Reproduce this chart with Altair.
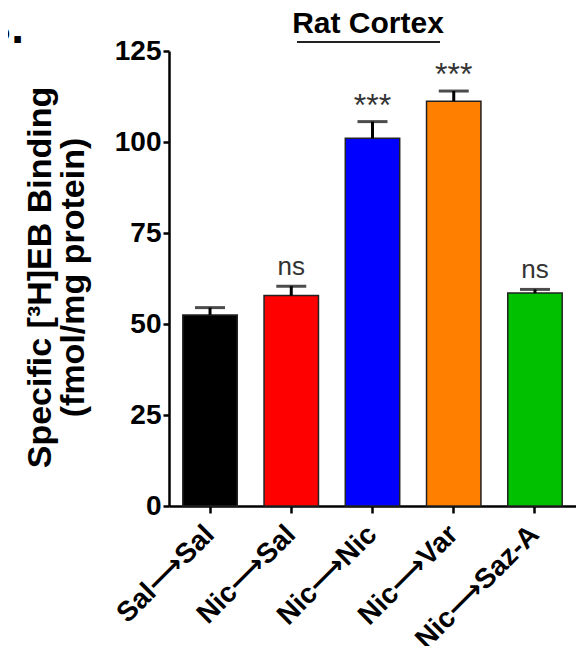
import altair as alt
import pandas as pd

groups = ["Sal⟶Sal", "Nic⟶Sal", "Nic⟶Nic", "Nic⟶Var", "Nic⟶Saz-A"]
means = [52.5, 57.8, 101.0, 111.2, 58.5]
sems = [2.0, 2.6, 4.6, 2.8, 1.0]
colors = ["#000000", "#ff0000", "#0000ff", "#ff8000", "#00c000"]
sig = ["", "ns", "***", "***", "ns"]
y_ticks = [0, 25, 50, 75, 100, 125]

df = pd.DataFrame({
    "group": groups,
    "mean": means,
    "sem": sems,
    "sig": sig,
})
df["top"] = df["mean"] + df["sem"]

FONT = "Liberation Sans, Arial, DejaVu Sans"

x_enc = alt.X(
    "group:N",
    sort=groups,
    scale=alt.Scale(paddingInner=0.33, paddingOuter=0.17),
    axis=alt.Axis(
        title=None,
        labelAngle=-45,
        labelAlign="right",
        labelBaseline="middle",
        labelFontSize=28,
        labelFontWeight="bold",
        labelFont=FONT,
        labelColor="black",
        labelPadding=17,
        tickSize=7,
        tickWidth=2.5,
        tickColor="black",
        domainWidth=2.5,
        domainColor="black",
    ),
)

y_scale = alt.Scale(domain=[0, 125], nice=False)

base = alt.Chart(df)

bars = base.mark_bar(stroke="#222222", strokeWidth=1.5).encode(
    x=x_enc,
    y=alt.Y(
        "mean:Q",
        scale=y_scale,
        axis=alt.Axis(
            values=y_ticks,
            title=["Specific [³H]EB Binding", "(fmol/mg protein)"],
            titleFontSize=34,
            titleFontWeight="bold",
            titleFont=FONT,
            titleColor="black",
            titleX=-129,
            titleY=226,
            titleAlign="center",
            titleBaseline="middle",
            titleLineHeight=33,
            labelFontSize=28,
            labelFontWeight="bold",
            labelFont=FONT,
            labelColor="black",
            labelPadding=2,
            tickSize=6,
            tickWidth=2.5,
            tickColor="black",
            domainWidth=2.5,
            domainColor="black",
            grid=False,
        ),
    ),
    color=alt.Color("group:N", scale=alt.Scale(domain=groups, range=colors), legend=None),
)

err = base.mark_rule(strokeWidth=3, color="black").encode(
    x=alt.X("group:N", sort=groups),
    y="mean:Q",
    y2="top:Q",
)

cap = base.mark_tick(size=30, thickness=3, color="black").encode(
    x=alt.X("group:N", sort=groups),
    y="top:Q",
)

ns_labels = base.transform_filter(alt.datum.sig == "ns").mark_text(
    dy=-11, baseline="alphabetic", fontSize=26, font=FONT, color="#333333"
).encode(
    x=alt.X("group:N", sort=groups),
    y="top:Q",
    text="sig:N",
)

star_labels = base.transform_filter(alt.datum.sig == "***").mark_text(
    dy=-6, baseline="alphabetic", fontSize=32, font=FONT, color="#333333"
).encode(
    x=alt.X("group:N", sort=groups),
    y="top:Q",
    text="sig:N",
)

deco = pd.DataFrame({"t": ["Rat Cortex"]})
title_txt = alt.Chart(deco).mark_text(
    fontSize=30, fontWeight="bold", font=FONT, color="black", baseline="alphabetic", align="center"
).encode(x=alt.value(199), y=alt.value(-18), text="t:N")

underline = alt.Chart(deco).mark_rule(strokeWidth=2, color="#222222").encode(
    x=alt.value(128), x2=alt.value(271), y=alt.value(-9)
)

panel = pd.DataFrame({"t": ["B."]})
panel_txt = alt.Chart(panel).mark_text(
    fontSize=46, fontWeight="bold", font=FONT, color="black", baseline="alphabetic", align="right"
).encode(x=alt.value(-145), y=alt.value(-8), text="t:N")

chart = alt.layer(bars, err, cap, ns_labels, star_labels, title_txt, underline, panel_txt).properties(
    width=407,
    height=455,
    autosize=alt.AutoSizeParams(type="none"),
    padding={"left": 161, "top": 43, "right": 0, "bottom": 140},
).configure_view(stroke=None)

chart.save("out.html", embed_options={"renderer": "svg", "actions": False})
